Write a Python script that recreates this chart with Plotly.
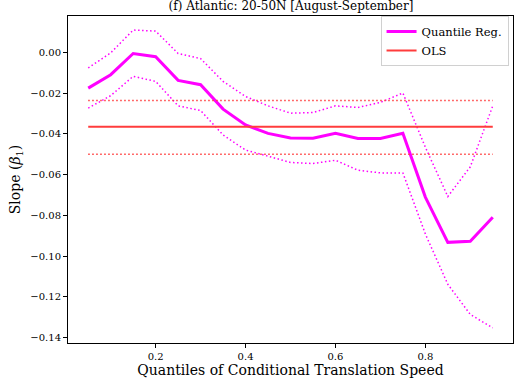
import numpy as np
import plotly.graph_objects as go

quantiles = [0.05, 0.10, 0.15, 0.20, 0.25, 0.30, 0.35, 0.40, 0.45, 0.50,
             0.55, 0.60, 0.65, 0.70, 0.75, 0.80, 0.85, 0.90, 0.95]
qr_slope = [-0.0175, -0.0109, -0.0005, -0.0021, -0.0137, -0.0158, -0.0278, -0.0356, -0.0397, -0.0420,
            -0.0421, -0.0397, -0.0422, -0.0422, -0.0397, -0.0710, -0.0932, -0.0927, -0.0809]
qr_upper = [-0.0076, -0.0002, 0.0110, 0.0105, -0.0005, -0.0030, -0.0142, -0.0216, -0.0262, -0.0298,
            -0.0295, -0.0262, -0.0270, -0.0245, -0.0199, -0.0465, -0.0707, -0.0561, -0.0262]
qr_lower = [-0.0273, -0.0212, -0.0117, -0.0142, -0.0262, -0.0285, -0.0405, -0.0479, -0.0509, -0.0540,
            -0.0545, -0.0529, -0.0578, -0.0591, -0.0591, -0.0891, -0.1138, -0.1286, -0.1352]
ols_slope = -0.0364
ols_upper = -0.0236
ols_lower = -0.0499

magenta = "#ff00ff"
red = "rgb(255,60,60)"
dotted = "1.5px,2.5px"
serif = "DejaVu Serif, serif"

fig = go.Figure()
n = len(quantiles)

fig.add_trace(go.Scatter(x=quantiles, y=qr_upper, mode="lines", showlegend=False,
                         line=dict(color=magenta, width=1.5, dash=dotted)))
fig.add_trace(go.Scatter(x=quantiles, y=qr_lower, mode="lines", showlegend=False,
                         line=dict(color=magenta, width=1.5, dash=dotted)))
fig.add_trace(go.Scatter(x=quantiles, y=qr_slope, mode="lines", name="Quantile Reg.",
                         line=dict(color=magenta, width=3)))
fig.add_trace(go.Scatter(x=quantiles, y=[ols_slope] * n, mode="lines", name="OLS",
                         line=dict(color=red, width=2)))
fig.add_trace(go.Scatter(x=quantiles, y=[ols_upper] * n, mode="lines", showlegend=False,
                         line=dict(color=red, width=1.5, dash=dotted)))
fig.add_trace(go.Scatter(x=quantiles, y=[ols_lower] * n, mode="lines", showlegend=False,
                         line=dict(color=red, width=1.5, dash=dotted)))

axis_common = dict(showline=True, linecolor="black", linewidth=1, mirror=True,
                   ticks="outside", ticklen=4, tickcolor="black", showgrid=False,
                   zeroline=False, automargin=False,
                   tickfont=dict(family=serif, size=10, color="black"))

fig.update_layout(
    width=515, height=383,
    margin=dict(l=68, r=2, t=16, b=40),
    paper_bgcolor="white", plot_bgcolor="white",
    font=dict(family=serif, color="black"),
    title=dict(text="(f) Atlantic: 20-50N [August-September]", x=0.565, xanchor="center",
               y=0.997, yanchor="top", font=dict(family=serif, size=12)),
    legend=dict(x=0.99, y=1.0, xanchor="right", yanchor="top",
                bgcolor="rgba(255,255,255,0.8)", bordercolor="#d0d0d0", borderwidth=1,
                font=dict(family=serif, size=11.5), tracegroupgap=0),
)
fig.update_xaxes(range=[0.005, 0.995], tickvals=[0.2, 0.4, 0.6, 0.8],
                 ticktext=["0.2", "0.4", "0.6", "0.8"],
                 title=dict(text="Quantiles of Conditional Translation Speed",
                            font=dict(family=serif, size=14), standoff=2),
                 **axis_common)
fig.update_yaxes(range=[-0.1426, 0.0179],
                 tickvals=[0.0, -0.02, -0.04, -0.06, -0.08, -0.10, -0.12, -0.14],
                 ticktext=["0.00", "−0.02", "−0.04", "−0.06", "−0.08", "−0.10", "−0.12", "−0.14"],
                 title=dict(text="Slope (<i>β</i><sub>1</sub>)",
                            font=dict(family=serif, size=14), standoff=6),
                 **axis_common)

# drop the default page margin so the figure sits at the window's corner
fig.write_html("out.html", config={"displayModeBar": False},
               post_script="document.body.style.margin='0';")
